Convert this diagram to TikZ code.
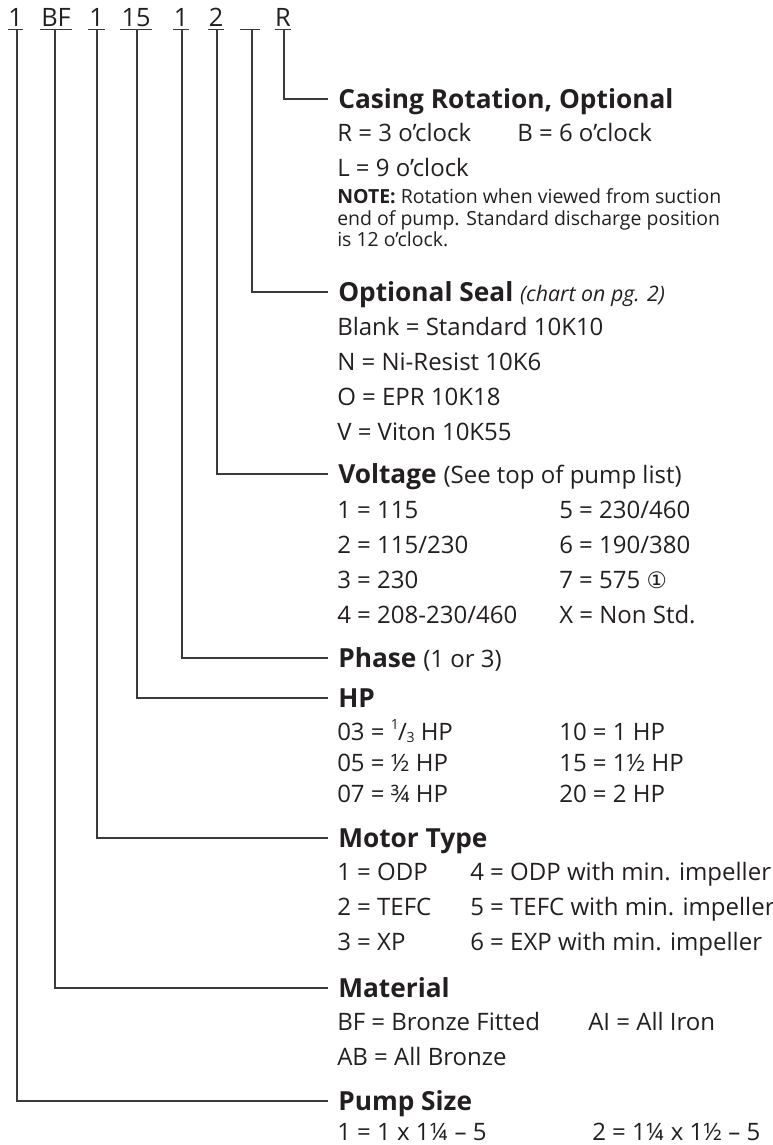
\documentclass[tikz,border=0pt]{standalone}
\usepackage{fontspec}
\setmainfont{Open Sans}
\newfontfamily\symfont{DejaVu Sans}
\definecolor{ink}{HTML}{231F20}
\definecolor{rulec}{HTML}{3A3A3A}
\newcommand{\onethird}{\raisebox{0.45em}{\fontsize{10.5}{10}\selectfont 1}\kern-0.03em/\kern-0.02em\raisebox{-0.1em}{\fontsize{10.5}{10}\selectfont 3}}
\begin{document}
\begin{tikzpicture}[x=0.75pt,y=-0.75pt,
  every node/.style={inner sep=0pt, text=ink},
  body/.style={anchor=base west, font=\fontsize{18}{21}\selectfont},
  note/.style={anchor=base west, font=\fontsize{14.6}{18}\selectfont},
  head/.style={anchor=west, inner xsep=7.5pt, inner ysep=0pt, text height=14pt, text depth=0pt, font=\fontsize{19.7}{24}\selectfont\bfseries},
  code/.style={anchor=base, font=\fontsize{19}{22}\selectfont},
  conn/.style={draw=rulec, line width=1pt},
  uline/.style={draw=rulec, line width=1pt}]
\useasboundingbox (0,0) rectangle (773,1145);

% code letters
\node[code] (c1) at (15.5,27) {1};
\node[code] (c2) at (56,27) {BF};
\node[code] (c3) at (96.5,27) {1};
\node[code] (c4) at (136,27) {15};
\node[code] (c5) at (181,27) {1};
\node[code] (c6) at (216,27) {2};
\node[code] (c8) at (283,27) {R};

\coordinate (k1) at (17,29.5);
\coordinate (k2) at (55,29.5);
\coordinate (k3) at (97,29.5);
\coordinate (k4) at (137,29.5);
\coordinate (k5) at (182,29.5);
\coordinate (k6) at (217,29.5);
\coordinate (k7) at (252,29.5);
\coordinate (k8) at (284,29.5);

\draw[uline] (8,29.5) -- (23,29.5);
\draw[uline] (40,29.5) -- (72,29.5);
\draw[uline] (88,29.5) -- (105,29.5);
\draw[uline] (120,29.5) -- (152,29.5);
\draw[uline] (173,29.5) -- (189,29.5);
\draw[uline] (208,29.5) -- (224,29.5);
\draw[uline] (240,29.5) -- (260,29.5);
\draw[uline] (275,29.5) -- (291,29.5);

% Casing rotation
\node[head] (hCas) at (328,99) {Casing Rotation, Optional};
\node[body] (cas1) at (337,142) {R = 3 o’clock};
\node[body] (cas2) at (517,142) {B = 6 o’clock};
\node[body] (cas3) at (337,176) {L = 9 o’clock};
\node[note] (nt1) at (337,204) {\textbf{NOTE:} Rotation when viewed from suction};
\node[note] (nt2) at (337,225) {end of pump. Standard discharge position};
\node[note] (nt3) at (337,246) {is 12 o’clock.};

% Optional seal
\node[head] (hSeal) at (328,292) {Optional Seal \fontsize{16}{18}\selectfont\mdseries\itshape (chart on pg. 2)};
\node[body] (s1) at (337,335) {Blank = Standard 10K10};
\node[body] (s2) at (337,370) {N = Ni-Resist 10K6};
\node[body] (s3) at (337,405) {O = EPR 10K18};
\node[body] (s4) at (337,440) {V = Viton 10K55};

% Voltage
\node[head] (hVolt) at (328,474) {Voltage \fontsize{18}{21}\selectfont\mdseries(See top of pump list)};
\node[body] (v1) at (337,518) {1 = 115};
\node[body] (v2) at (337,553) {2 = 115/230};
\node[body] (v3) at (337,588) {3 = 230};
\node[body] (v4) at (337,623) {4 = 208-230/460};
\node[body] (v5) at (559,518) {5 = 230/460};
\node[body] (v6) at (559,553) {6 = 190/380};
\node[body] (v7) at (559,588) {7 = 575 {\symfont\fontsize{17}{18}\selectfont ①}};
\node[body] (v8) at (559,623) {X = Non Std.};

% Phase
\node[head] (hPh) at (328,658) {Phase \fontsize{18}{21}\selectfont\mdseries(1 or 3)};

% HP
\node[head] (hHP) at (328,698) {HP};
\node[body] (p1) at (337,740) {03 = \onethird\ HP};
\node[body] (p2) at (337,771) {05 = ½ HP};
\node[body] (p3) at (337,802) {07 = ¾ HP};
\node[body] (p4) at (559,740) {10 = 1 HP};
\node[body] (p5) at (559,771) {15 = 1½ HP};
\node[body] (p6) at (559,802) {20 = 2 HP};

% Motor type
\node[head] (hMot) at (328,838) {Motor Type};
\node[body] (m1) at (337,880) {1 = ODP};
\node[body] (m2) at (337,915) {2 = TEFC};
\node[body] (m3) at (337,950) {3 = XP};
\node[body] (m4) at (470,880) {4 = ODP with min. impeller};
\node[body] (m5) at (470,915) {5 = TEFC with min. impeller};
\node[body] (m6) at (470,950) {6 = EXP with min. impeller};

% Material
\node[head] (hMat) at (328,988) {Material};
\node[body] (a1) at (337,1030) {BF = Bronze Fitted};
\node[body] (a2) at (588,1030) {AI = All Iron};
\node[body] (a3) at (337,1065) {AB = All Bronze};

% Pump size
\node[head] (hPump) at (328,1101) {Pump Size};
\node[body] (z1) at (337,1140) {1 = 1 x 1¼ – 5};
\node[body] (z2) at (592,1140) {2 = 1¼ x 1½ – 5};

% connectors
\draw[conn] (k8) |- (hCas.west);
\draw[conn] (k7) |- (hSeal.west);
\draw[conn] (k6) |- (hVolt.west);
\draw[conn] (k5) |- (hPh.west);
\draw[conn] (k4) |- (hHP.west);
\draw[conn] (k3) |- (hMot.west);
\draw[conn] (k2) |- (hMat.west);
\draw[conn] (k1) |- (hPump.west);
\end{tikzpicture}
\end{document}
